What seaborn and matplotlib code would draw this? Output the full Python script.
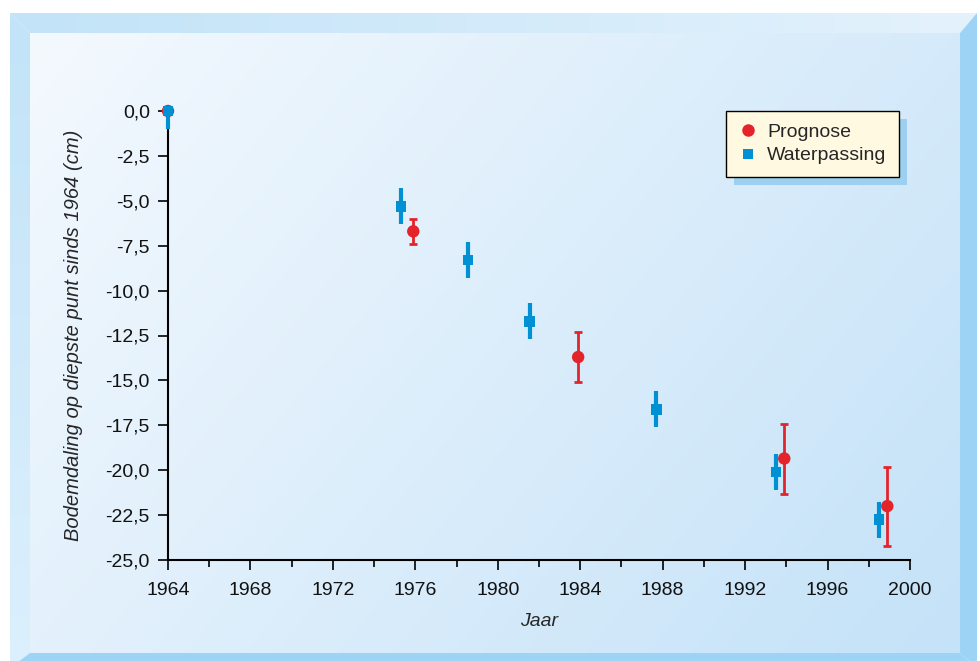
import numpy as np
import pandas as pd
import seaborn as sns
import matplotlib.pyplot as plt
from matplotlib.patches import Polygon, Rectangle
from matplotlib.lines import Line2D
from matplotlib.colors import to_rgb

# ---- data ----
wp_year = [1964.0, 1975.3, 1978.55, 1981.55, 1987.7, 1993.5, 1998.5]
wp_value = [0.0, -5.3, -8.3, -11.7, -16.6, -20.1, -22.75]
wp_err_low = [1.0, 1.0, 1.0, 1.0, 1.0, 1.0, 1.0]
wp_err_high = [0.0, 1.0, 1.0, 1.0, 1.0, 1.0, 1.0]

pr_year = [1964.0, 1975.9, 1983.9, 1993.9, 1998.9]
pr_value = [0.0, -6.7, -13.7, -19.35, -22.0]
pr_err_low = [0.0, 0.7, 1.4, 1.95, 2.2]
pr_err_high = [0.0, 0.7, 1.4, 1.95, 2.2]

x_ticks = list(range(1964, 2001, 4))
y_ticks = [0.0, -2.5, -5.0, -7.5, -10.0, -12.5, -15.0, -17.5, -20.0, -22.5, -25.0]

RED = "#e3242b"
BLUE = "#0091d5"

sns.set_theme(style="ticks")
plt.rcParams["font.family"] = ["Liberation Sans", "DejaVu Sans"]

W, H = 980, 661
fig = plt.figure(figsize=(W / 100, H / 100), dpi=100)
fig.patch.set_facecolor("white")

# ---- background panel with bevel ----
bg = fig.add_axes([0, 0, 1, 1], zorder=-10)
bg.set_xlim(0, W)
bg.set_ylim(H, 0)
bg.axis("off")

ox0, oy0, ox1, oy1 = 10, 13, 977, 668
ix0, iy0, ix1, iy1 = 30, 33, 960, 653


def gradient(ca, cb, wx, wy):
    a = np.array(to_rgb(ca))
    b = np.array(to_rgb(cb))
    gx, gy = np.meshgrid(np.linspace(0, 1, 300), np.linspace(0, 1, 200))
    t = np.clip(wx * gx + wy * gy, 0, 1)[..., None]
    return a * (1 - t) + b * t


bg.imshow(gradient("#f4f9fe", "#c4e2f8", 0.65, 0.35), extent=(ix0, ix1, iy1, iy0),
          aspect="auto", interpolation="bilinear", zorder=1)

top = Polygon([(ox0, oy0), (ox1, oy0), (ix1, iy0), (ix0, iy0)], closed=True,
              facecolor="none", edgecolor="none")
left = Polygon([(ox0, oy0), (ix0, iy0), (ix0, iy1), (ox0, oy1)], closed=True,
               facecolor="none", edgecolor="none")
bg.add_patch(top)
bg.add_patch(left)
im_top = bg.imshow(gradient("#c2e3f8", "#e4f2fc", 1.0, 0.0), extent=(ox0, ox1, iy0, oy0),
                   aspect="auto", interpolation="bilinear", zorder=2)
im_top.set_clip_path(top)
im_left = bg.imshow(gradient("#c2e3f8", "#dcf0fd", 0.0, 1.0), extent=(ox0, ix0, oy1, oy0),
                    aspect="auto", interpolation="bilinear", zorder=2)
im_left.set_clip_path(left)
bg.add_patch(Polygon([(ox1, oy0), (ox1, oy1), (ix1, iy1), (ix1, iy0)], closed=True,
                     facecolor="#9dd3f5", edgecolor="none", zorder=2))
bg.add_patch(Polygon([(ix0, iy1), (ix1, iy1), (ox1, oy1), (ox0, oy1)], closed=True,
                     facecolor="#9dd3f5", edgecolor="none", zorder=2))

# ---- main axes ----
ax = fig.add_axes([168 / W, 1 - 560 / H, (910 - 168) / W, (560 - 111) / H])
ax.set_facecolor("none")

ax.errorbar(pr_year, pr_value, yerr=[pr_err_low, pr_err_high], fmt="none",
            ecolor=RED, elinewidth=2.0, capsize=3, capthick=2.0, zorder=3, clip_on=False)
sns.scatterplot(x=pr_year, y=pr_value, ax=ax, marker="o", s=80, color=RED,
                edgecolor="none", zorder=4, clip_on=False)

ax.errorbar(wp_year, wp_value, yerr=[wp_err_low, wp_err_high], fmt="none",
            ecolor=BLUE, elinewidth=3.0, capsize=0, zorder=5, clip_on=False)
sns.scatterplot(x=wp_year, y=wp_value, ax=ax, marker="s", s=60, color=BLUE,
                edgecolor="none", zorder=6, clip_on=False)

ax.set_xlim(1964, 2000)
ax.set_ylim(-25, 0)
ax.set_xticks(x_ticks)
ax.set_xticks(range(1966, 2000, 4), minor=True)
ax.set_yticks(y_ticks)
ax.set_yticklabels([f"{v:.1f}".replace(".", ",") for v in y_ticks])
ax.tick_params(axis="both", which="major", direction="out", length=7, width=1.2,
               color="black", labelsize=14, labelcolor="#111111", pad=6)
ax.tick_params(axis="x", which="major", pad=9)
ax.tick_params(axis="x", which="minor", direction="out", length=5, width=1.2, color="black")
sns.despine(ax=ax)
for side in ("left", "bottom"):
    ax.spines[side].set_color("black")
    ax.spines[side].set_linewidth(1.5)

ax.set_xlabel("Jaar", fontsize=14, style="italic", labelpad=10)
ax.set_ylabel("Bodemdaling op diepste punt sinds 1964 (cm)", fontsize=14.5,
              style="italic", labelpad=16)

handles = [
    Line2D([], [], linestyle="none", marker="o", markersize=9, color=RED, markeredgewidth=0),
    Line2D([], [], linestyle="none", marker="s", markersize=7, color=BLUE, markeredgewidth=0),
]
leg = fig.legend(handles, ["Prognose", "Waterpassing"], loc="upper left",
                 bbox_to_anchor=(726 / W, 1 - 111 / H), borderaxespad=0,
                 fontsize=14, frameon=True, fancybox=False, handlelength=1.0,
                 handletextpad=0.5, borderpad=0.62, labelspacing=0.32)
leg.get_frame().set_facecolor("#fff9e1")
leg.get_frame().set_edgecolor("black")
leg.get_frame().set_linewidth(1.0)
leg.get_frame().set_alpha(1)

fig.canvas.draw()
bb = leg.get_window_extent()
shadow = Rectangle((bb.x0 + 8, bb.y0 - 8), bb.width, bb.height, transform=None,
                   facecolor="#9dd0f0", edgecolor="none")
bg.add_artist(shadow)
shadow.set_zorder(5)

fig.savefig("out.png", dpi=100)
